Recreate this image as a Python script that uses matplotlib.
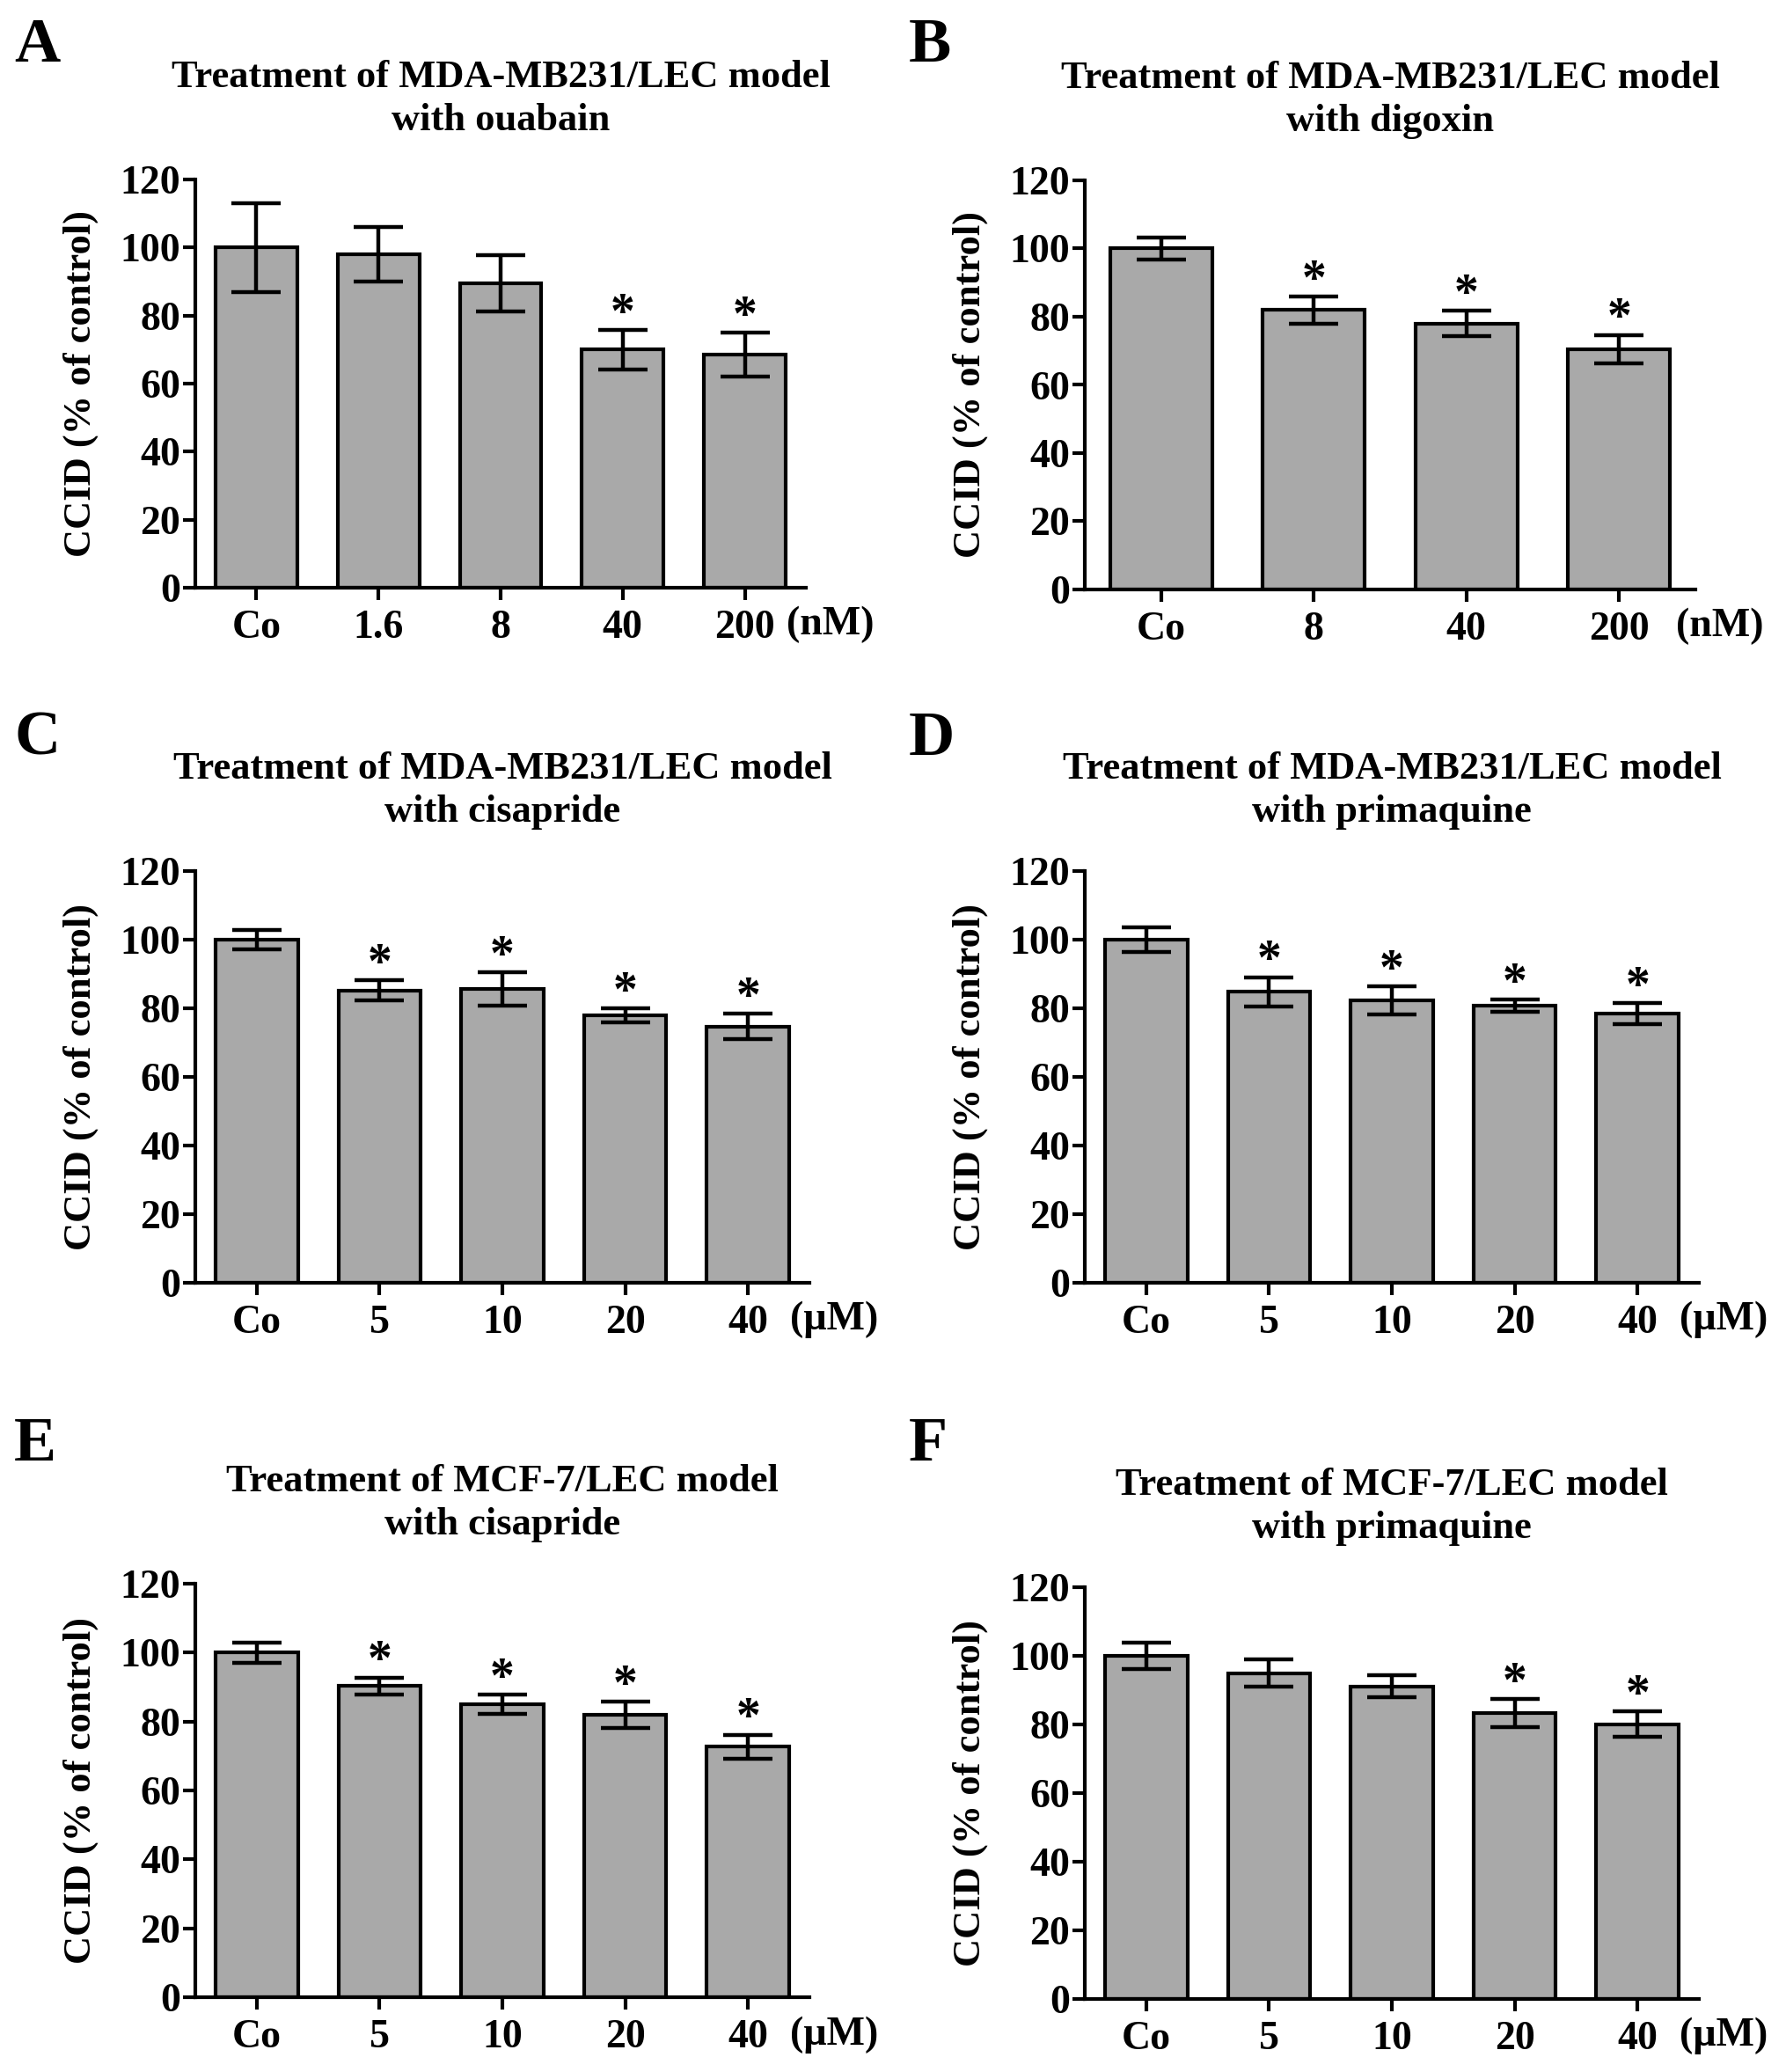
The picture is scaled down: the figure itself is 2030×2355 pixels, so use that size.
import matplotlib
matplotlib.use('Agg')
import matplotlib.pyplot as plt

plt.rcParams['font.family'] = ['Liberation Serif', 'DejaVu Serif']
plt.rcParams['font.weight'] = 'bold'

# panel data (mean, SEM, significance)
titles = [
    'Treatment of MDA-MB231/LEC model\nwith ouabain',
    'Treatment of MDA-MB231/LEC model\nwith digoxin',
    'Treatment of MDA-MB231/LEC model\nwith cisapride',
    'Treatment of MDA-MB231/LEC model\nwith primaquine',
    'Treatment of MCF-7/LEC model\nwith cisapride',
    'Treatment of MCF-7/LEC model\nwith primaquine',
]
panel_letters = ['A', 'B', 'C', 'D', 'E', 'F']
units = ['(nM)', '(nM)', '(\u00b5M)', '(\u00b5M)', '(\u00b5M)', '(\u00b5M)']

labels_a = ['Co', '1.6', '8', '40', '200']
means_a = [100, 98, 89.5, 70, 68.5]
sem_a = [13, 8, 8.3, 5.8, 6.4]
sig_a = [False, False, False, True, True]

labels_b = ['Co', '8', '40', '200']
means_b = [100, 82, 78, 70.5]
sem_b = [3.2, 4, 3.8, 4.2]
sig_b = [False, True, True, True]

labels_c = ['Co', '5', '10', '20', '40']
means_c = [100, 85.2, 85.6, 78, 74.7]
sem_c = [2.9, 2.9, 4.9, 2.0, 3.7]
sig_c = [False, True, True, True, True]

labels_d = ['Co', '5', '10', '20', '40']
means_d = [100, 84.8, 82.2, 80.8, 78.5]
sem_d = [3.7, 4.3, 4.1, 1.8, 3.0]
sig_d = [False, True, True, True, True]

labels_e = ['Co', '5', '10', '20', '40']
means_e = [100, 90.3, 85.1, 81.9, 72.7]
sem_e = [2.9, 2.5, 2.8, 3.8, 3.5]
sig_e = [False, True, True, True, True]

labels_f = ['Co', '5', '10', '20', '40']
means_f = [100, 94.9, 91.1, 83.4, 80.1]
sem_f = [3.9, 4.0, 3.2, 4.1, 3.8]
sig_f = [False, False, False, True, True]

panels = [
    (labels_a, means_a, sem_a, sig_a),
    (labels_b, means_b, sem_b, sig_b),
    (labels_c, means_c, sem_c, sig_c),
    (labels_d, means_d, sem_d, sig_d),
    (labels_e, means_e, sem_e, sig_e),
    (labels_f, means_f, sem_f, sig_f),
]

W, H = 2031, 2355
# axes boxes in pixels: left, top (y=120), bottom (y=0), width
boxes = [
    (222, 204, 668, 694),
    (1233, 205, 670, 694),
    (222, 990, 1458, 698),
    (1233, 990, 1458, 698),
    (222, 1800, 2270, 698),
    (1233, 1804, 2272, 698),
]
letter_pos = [(16, 20), (1033, 20), (16, 808), (1033, 808), (16, 1610), (1033, 1610)]

fig = plt.figure(figsize=(W / 100, H / 100), dpi=100)

for i, (labels, means, sem, sig) in enumerate(panels):
    left, top, bottom, width = boxes[i]
    ax = fig.add_axes([left / W, 1 - bottom / H, width / W, (bottom - top) / H])
    x = list(range(len(labels)))
    ax.bar(x, means, width=0.67, color='#a9a9a9', edgecolor='black', linewidth=3, zorder=2)
    ax.errorbar(x, means, yerr=sem, fmt='none', ecolor='black', elinewidth=3.2,
                capsize=20, capthick=3.2, zorder=3)
    for xi, m, s, star in zip(x, means, sem, sig):
        if star:
            ax.text(xi, m + s + 0.8, '*', ha='center', va='baseline', fontsize=40,
                    fontweight='bold')
    ax.set_xlim(-0.5, len(labels) - 0.5)
    ax.set_ylim(0, 120)
    ax.set_yticks(range(0, 121, 20))
    ax.set_xticks(x)
    ax.set_xticklabels(labels)
    ax.spines['top'].set_visible(False)
    ax.spines['right'].set_visible(False)
    ax.spines['left'].set_linewidth(3)
    ax.spines['bottom'].set_linewidth(3)
    ax.tick_params(axis='both', length=10, width=3, labelsize=33, direction='out')
    ax.tick_params(axis='y', pad=2)
    ax.tick_params(axis='x', pad=8)
    ax.set_ylabel('CCID (% of control)', fontsize=32, fontweight='bold', labelpad=18)
    ax.set_title(titles[i], fontsize=32, fontweight='bold', pad=40, linespacing=1.32)
    ax.text(0.968, -0.045, units[i], transform=ax.transAxes, ha='left', va='top',
            fontsize=33, fontweight='bold')
    lx, ly = letter_pos[i]
    fig.text(lx / W, 1 - ly / H, panel_letters[i], ha='left', va='top', fontsize=52,
             fontweight='bold')

fig.savefig('out.png', dpi=100)
